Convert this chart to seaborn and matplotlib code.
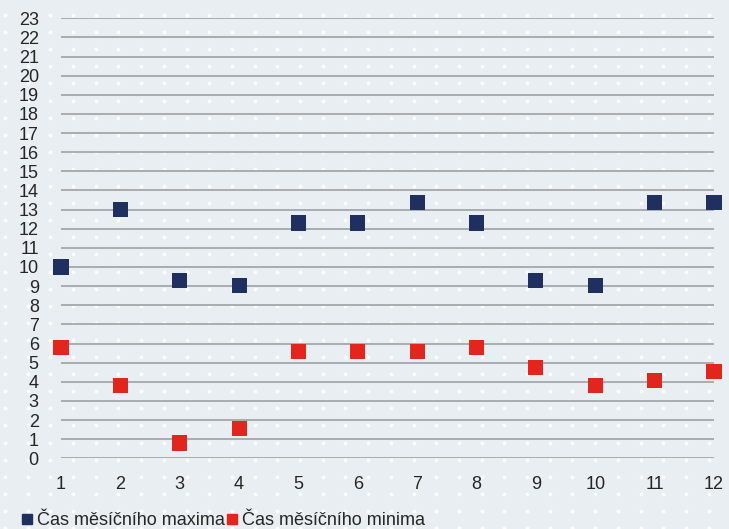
import numpy as np
import pandas as pd
import matplotlib
matplotlib.use("Agg")
import matplotlib.pyplot as plt
import seaborn as sns
from matplotlib.lines import Line2D

# Monthly data: hour of the day at which the maximum / minimum occurs
months = list(range(1, 13))
cas_maxima = [10.0, 13.0, 9.3, 9.05, 12.3, 12.3, 13.35, 12.3, 9.3, 9.05, 13.35, 13.35]
cas_minima = [5.8, 3.8, 0.8, 1.55, 5.6, 5.6, 5.6, 5.8, 4.75, 3.8, 4.05, 4.55]
series_names = ["Čas měsíčního maxima", "Čas měsíčního minima"]
y_ticks = list(range(0, 24))

df = pd.DataFrame({
    "mesic": months * 2,
    "hodina": cas_maxima + cas_minima,
    "serie": [series_names[0]] * 12 + [series_names[1]] * 12,
})

bg = "#e8eef1"
navy = "#1f2f5f"
red = "#e2251d"
txt = "#262626"

sns.set_style("white")
plt.rcParams["font.family"] = ["Liberation Sans", "DejaVu Sans"]

fig = plt.figure(figsize=(7.29, 5.29), dpi=100, facecolor=bg)

# dotted background texture
bgax = fig.add_axes([0, 0, 1, 1], zorder=-5)
bgax.set_xlim(0, 729)
bgax.set_ylim(529, 0)
bgax.axis("off")
gx, gy = np.meshgrid(np.arange(5, 729, 22.7), np.arange(15, 529, 17.1))
bgax.scatter(gx.ravel(), gy.ravel(), s=8, color="white", alpha=0.85, linewidths=0)

ax = fig.add_axes([61 / 729, 1 - 458.3 / 529, (714 - 61) / 729, (458.3 - 18.3) / 529])
ax.set_facecolor("none")

sns.scatterplot(data=df, x="mesic", y="hodina", hue="serie",
                palette=[navy, red], marker="s", s=118, linewidth=0,
                ax=ax, clip_on=False, zorder=3, legend=False)

ax.set_xlim(1, 12)
ax.set_ylim(0, 23)
ax.set_xticks(months)
ax.set_yticks(y_ticks)
ax.grid(axis="y", color="#aaadaf", linewidth=1.4)
ax.grid(axis="x", visible=False)
ax.set_axisbelow(True)
for sp in ax.spines.values():
    sp.set_visible(False)
ax.tick_params(axis="both", length=0, labelsize=13, colors=txt)
ax.tick_params(axis="y", pad=16)
ax.tick_params(axis="x", pad=13)
ax.set_xlabel("")
ax.set_ylabel("")

handles = [Line2D([], [], marker="s", linestyle="none", color=c, markersize=7)
           for c in (navy, red)]
fig.legend(handles, series_names, loc="lower left", bbox_to_anchor=(0.012, -0.024),
           ncol=2, frameon=False, fontsize=13, handlelength=0.6,
           handletextpad=0.25, columnspacing=0.1, labelcolor=txt,
           borderpad=0.2)

fig.savefig("out.png", dpi=100, facecolor=bg)
